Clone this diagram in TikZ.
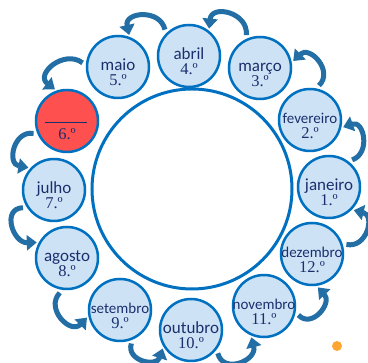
\documentclass[tikz,border=0pt]{standalone}
\usepackage{fontspec}
\setmainfont{Liberation Serif}
\newfontfamily\monthfont{Carlito}
\usetikzlibrary{arrows.meta,calc}
\definecolor{ringblue}{RGB}{0,112,192}
\definecolor{fillblue}{RGB}{205,227,245}
\definecolor{redfill}{RGB}{255,80,80}
\definecolor{arrowblue}{RGB}{35,110,165}
\definecolor{navy}{RGB}{26,47,110}
\definecolor{dotorange}{RGB}{255,165,50}
\tikzset{
  monthcircle/.style={circle,draw=ringblue,line width=2.5pt,fill=fillblue,minimum size=62pt,inner sep=0pt},
  monthname/.style={anchor=base,inner sep=0pt,text=navy,font=\monthfont\fontsize{17}{17}\selectfont},
  longname/.style={anchor=base,inner sep=0pt,text=navy,font=\monthfont\fontsize{15}{15}\selectfont},
  ordnum/.style={anchor=base,inner sep=0pt,text=navy,font=\fontsize{16.5}{16.5}\selectfont},
  cyclearrow/.style={draw=arrowblue,line width=5pt,-{Triangle[width=15pt,length=10pt]},shorten <=4pt,shorten >=2pt,looseness=1.8}
}
\newcommand\mesnode[6]{%
  \node[monthcircle] (#1) at (#2,#3) {};
  \node[#6] (#1-name) at ($(#1)+(0,-4)$) {#4};
  \node[ordnum] (#1-num) at ($(#1)+(0,-19)$) {#5};
}
\begin{document}
\begin{tikzpicture}[x=1pt,y=1pt]
\useasboundingbox (0,0) rectangle (368,363);
% central ring
\node[circle,draw=ringblue,line width=3pt,fill=white,minimum size=200pt,inner sep=0pt] (ring) at (192,174) {};
% months
\mesnode{jan}{329}{176}{janeiro}{1.º}{monthname}
\mesnode{fev}{310}{243}{fevereiro}{2.º}{longname}
\mesnode{mar}{260}{295}{março}{3.º}{monthname}
\mesnode{abr}{189}{307}{abril}{4.º}{monthname}
\mesnode{mai}{118}{296}{maio}{5.º}{monthname}
\node[monthcircle,fill=redfill] (sexto) at (67,242) {};
\node[anchor=base,inner sep=0pt,text=navy] (sexto-blank) at ($(sexto)+(-1,-2.5)$) {\rule{42pt}{1.1pt}};
\node[ordnum] (sexto-num) at ($(sexto)+(0,-19)$) {6.º};
\mesnode{jul}{54}{173}{julho}{7.º}{monthname}
\mesnode{ago}{67}{105}{agosto}{8.º}{monthname}
\mesnode{set}{120}{53}{setembro}{9.º}{longname}
\mesnode{out}{191}{33}{outubro}{10.º}{monthname}
\mesnode{nov}{264}{57}{novembro}{11.º}{longname}
\mesnode{dez}{312}{109}{dezembro}{12.º}{longname}
% arrows
\draw[cyclearrow] (jan.53) to[out=19.5,in=19.5] (fev.-14);
\draw[cyclearrow] (fev.79) to[out=44.5,in=44.5] (mar.10);
\draw[cyclearrow] (mar.116) to[out=84,in=84] (abr.52);
\draw[cyclearrow] (abr.136) to[out=102.5,in=102.5] (mai.69);
\draw[cyclearrow] (mai.177) to[out=143,in=143] (sexto.109);
\draw[cyclearrow] (sexto.204) to[out=170.5,in=170.5] (jul.137);
\draw[cyclearrow] (jul.213) to[out=182,in=182] (ago.151);
\draw[cyclearrow] (ago.262) to[out=226.5,in=226.5] (set.191);
\draw[cyclearrow] (set.293) to[out=252,in=252] (out.211);
\draw[cyclearrow] (out.323) to[out=284.5,in=284.5] (nov.246);
\draw[cyclearrow] (nov.349) to[out=313.5,in=313.5] (dez.278);
\draw[cyclearrow] (dez.19) to[out=-13,in=-13] (jan.315);
% orange dot
\node[circle,fill=dotorange,minimum size=10pt,inner sep=0pt] (dot) at (337,17) {};
\end{tikzpicture}
\end{document}
